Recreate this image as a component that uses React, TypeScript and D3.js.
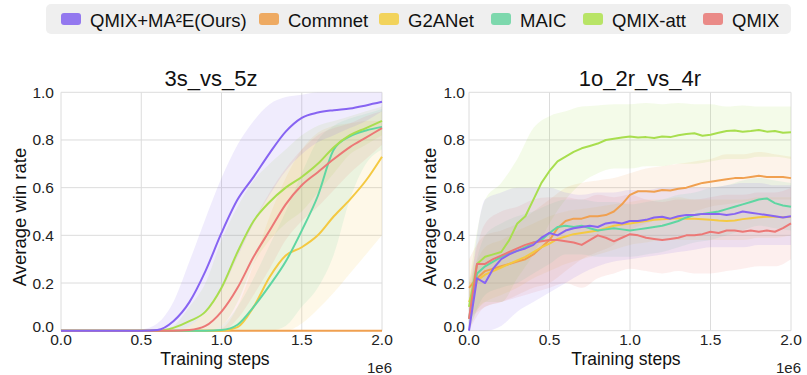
import React from "react";
import * as d3 from "d3";

// ---- legend / series definitions ----
const METHODS = ["QMIX+MA²E(Ours)", "Commnet", "G2ANet", "MAIC", "QMIX-att", "QMIX"];
const LINE_COLORS = ["#8764f2", "#f0a050", "#f4c942", "#5fd6a2", "#a8de4e", "#ec7876"];
const SWATCH_COLORS = ["#9378ef", "#eeaa62", "#f2d35b", "#7dd8ad", "#b8e466", "#ea8a87"];
const LEGEND_X = [61, 259, 379, 491, 583, 703];

const X_TICKS = [0, 0.5, 1.0, 1.5, 2.0];
const Y_TICKS = [0, 0.2, 0.4, 0.6, 0.8, 1.0];

// ---- 3s_vs_5z (steps in 1e6, every 0.1) ----
const STEPS_A = [0, 0.1, 0.2, 0.3, 0.4, 0.5, 0.6, 0.7, 0.8, 0.9, 1.0, 1.1, 1.2, 1.3, 1.4, 1.5, 1.6, 1.7, 1.8, 1.9, 2.0];
const A_MA2E = [0, 0, 0, 0, 0, 0, 0.003, 0.04, 0.12, 0.25, 0.41, 0.55, 0.645, 0.745, 0.835, 0.893, 0.915, 0.925, 0.932, 0.945, 0.96];
const A_MA2E_HI = [0, 0, 0, 0, 0, 0.005, 0.03, 0.12, 0.29, 0.47, 0.64, 0.78, 0.88, 0.95, 0.98, 0.99, 1, 1, 1, 1, 1];
const A_MA2E_LO = [0, 0, 0, 0, 0, 0, 0, 0, 0.02, 0.08, 0.17, 0.31, 0.45, 0.57, 0.67, 0.74, 0.79, 0.82, 0.85, 0.88, 0.92];
const A_COMM = [0, 0, 0, 0, 0, 0, 0, 0, 0, 0, 0, 0, 0, 0, 0, 0, 0, 0, 0, 0, 0];
const A_G2A = [0, 0, 0, 0, 0, 0, 0, 0, 0, 0, 0, 0.015, 0.1, 0.225, 0.315, 0.35, 0.4, 0.48, 0.55, 0.63, 0.73];
const A_G2A_HI = [0, 0, 0, 0, 0, 0, 0, 0, 0, 0, 0.01, 0.1, 0.28, 0.48, 0.64, 0.76, 0.83, 0.86, 0.87, 0.88, 0.88];
const A_G2A_LO = [0, 0, 0, 0, 0, 0, 0, 0, 0, 0, 0, 0, 0, 0, 0, 0.03, 0.09, 0.16, 0.24, 0.32, 0.4];
const A_MAIC = [0, 0, 0, 0, 0, 0, 0, 0, 0, 0, 0.003, 0.025, 0.1, 0.19, 0.29, 0.42, 0.565, 0.76, 0.815, 0.84, 0.855];
const A_MAIC_HI = [0, 0, 0, 0, 0, 0, 0, 0, 0, 0, 0.02, 0.1, 0.22, 0.36, 0.5, 0.66, 0.8, 0.86, 0.89, 0.91, 0.93];
const A_MAIC_LO = [0, 0, 0, 0, 0, 0, 0, 0, 0, 0, 0, 0, 0, 0, 0.02, 0.1, 0.18, 0.32, 0.55, 0.7, 0.76];
const A_ATT = [0, 0, 0, 0, 0, 0, 0, 0.012, 0.04, 0.08, 0.18, 0.33, 0.46, 0.54, 0.6, 0.645, 0.7, 0.77, 0.82, 0.85, 0.88];
const A_ATT_HI = [0, 0, 0, 0, 0, 0, 0, 0.02, 0.1, 0.2, 0.38, 0.52, 0.63, 0.7, 0.76, 0.82, 0.86, 0.88, 0.9, 0.92, 0.94];
const A_ATT_LO = [0, 0, 0, 0, 0, 0, 0, 0, 0, 0, 0.02, 0.12, 0.28, 0.38, 0.45, 0.5, 0.58, 0.66, 0.74, 0.78, 0.82];
const A_QMIX = [0, 0, 0, 0, 0, 0, 0, 0, 0.003, 0.02, 0.08, 0.18, 0.31, 0.42, 0.53, 0.61, 0.665, 0.72, 0.77, 0.81, 0.85];
const A_QMIX_HI = [0, 0, 0, 0, 0, 0, 0, 0, 0.02, 0.08, 0.18, 0.32, 0.46, 0.58, 0.68, 0.76, 0.82, 0.85, 0.87, 0.9, 0.92];
const A_QMIX_LO = [0, 0, 0, 0, 0, 0, 0, 0, 0, 0, 0, 0.05, 0.15, 0.26, 0.38, 0.46, 0.52, 0.59, 0.66, 0.72, 0.78];

// ---- 1o_2r_vs_4r: mean curves every 0.05, spread every 0.1 ----
const STEPS_B = d3.range(41).map((i) => i * 0.05);
const B_MA2E = [0, 0.22, 0.2, 0.26, 0.3, 0.32, 0.335, 0.345, 0.36, 0.39, 0.41, 0.4, 0.42, 0.43, 0.435, 0.44, 0.435, 0.45, 0.455, 0.45, 0.46, 0.46, 0.465, 0.475, 0.478, 0.47, 0.48, 0.485, 0.485, 0.49, 0.49, 0.49, 0.485, 0.49, 0.5, 0.495, 0.49, 0.485, 0.48, 0.475, 0.48];
const B_COMM = [0.18, 0.22, 0.25, 0.26, 0.27, 0.28, 0.29, 0.3, 0.32, 0.35, 0.38, 0.43, 0.46, 0.47, 0.47, 0.48, 0.48, 0.485, 0.5, 0.53, 0.57, 0.585, 0.585, 0.583, 0.59, 0.588, 0.595, 0.6, 0.61, 0.62, 0.625, 0.63, 0.635, 0.64, 0.64, 0.645, 0.65, 0.645, 0.645, 0.645, 0.64];
const B_G2A = [0.12, 0.21, 0.235, 0.25, 0.265, 0.28, 0.295, 0.31, 0.33, 0.35, 0.365, 0.385, 0.395, 0.405, 0.41, 0.415, 0.42, 0.43, 0.44, 0.445, 0.45, 0.455, 0.46, 0.465, 0.468, 0.47, 0.472, 0.47, 0.47, 0.468, 0.465, 0.462, 0.46, 0.462, 0.468, 0.472, 0.476, 0.478, 0.478, 0.476, 0.478];
const B_MAIC = [0.05, 0.24, 0.27, 0.29, 0.31, 0.325, 0.335, 0.35, 0.37, 0.38, 0.41, 0.435, 0.44, 0.435, 0.44, 0.43, 0.42, 0.425, 0.43, 0.425, 0.42, 0.425, 0.43, 0.435, 0.44, 0.45, 0.46, 0.475, 0.485, 0.49, 0.495, 0.5, 0.51, 0.52, 0.53, 0.54, 0.55, 0.555, 0.535, 0.525, 0.52];
const B_ATT = [0.1, 0.28, 0.31, 0.32, 0.33, 0.38, 0.45, 0.48, 0.55, 0.62, 0.67, 0.71, 0.73, 0.75, 0.765, 0.775, 0.785, 0.8, 0.805, 0.81, 0.815, 0.81, 0.812, 0.808, 0.815, 0.812, 0.82, 0.825, 0.828, 0.818, 0.822, 0.83, 0.838, 0.84, 0.835, 0.838, 0.842, 0.835, 0.838, 0.83, 0.832];
const B_QMIX = [0.05, 0.28, 0.28, 0.3, 0.315, 0.33, 0.345, 0.36, 0.37, 0.375, 0.38, 0.38, 0.375, 0.37, 0.36, 0.38, 0.4, 0.39, 0.375, 0.39, 0.405, 0.4, 0.39, 0.385, 0.38, 0.385, 0.39, 0.4, 0.4, 0.405, 0.415, 0.41, 0.42, 0.42, 0.415, 0.42, 0.415, 0.42, 0.415, 0.43, 0.45];

const B_MA2E_HI = [0.1, 0.55, 0.58, 0.6, 0.6, 0.6, 0.58, 0.57, 0.58, 0.58, 0.59, 0.59, 0.6, 0.6, 0.6, 0.6, 0.61, 0.62, 0.62, 0.61, 0.61];
const B_MA2E_LO = [0, 0, 0.02, 0.08, 0.12, 0.16, 0.2, 0.24, 0.27, 0.29, 0.3, 0.31, 0.32, 0.33, 0.34, 0.35, 0.35, 0.35, 0.36, 0.36, 0.36];
const B_COMM_HI = [0.3, 0.4, 0.42, 0.45, 0.5, 0.55, 0.6, 0.62, 0.63, 0.64, 0.66, 0.68, 0.69, 0.7, 0.71, 0.72, 0.74, 0.74, 0.75, 0.74, 0.73];
const B_COMM_LO = [0.05, 0.1, 0.12, 0.15, 0.18, 0.2, 0.25, 0.3, 0.33, 0.36, 0.42, 0.45, 0.47, 0.48, 0.5, 0.52, 0.53, 0.54, 0.55, 0.55, 0.55];
const B_G2A_HI = [0.2, 0.35, 0.38, 0.42, 0.45, 0.48, 0.5, 0.51, 0.52, 0.53, 0.54, 0.55, 0.55, 0.56, 0.55, 0.55, 0.55, 0.55, 0.56, 0.56, 0.56];
const B_G2A_LO = [0.05, 0.12, 0.15, 0.18, 0.22, 0.25, 0.28, 0.3, 0.32, 0.34, 0.36, 0.37, 0.38, 0.38, 0.38, 0.38, 0.38, 0.38, 0.39, 0.39, 0.4];
const B_MAIC_HI = [0.15, 0.4, 0.45, 0.48, 0.5, 0.53, 0.55, 0.55, 0.54, 0.54, 0.53, 0.54, 0.55, 0.57, 0.58, 0.6, 0.61, 0.63, 0.64, 0.63, 0.62];
const B_MAIC_LO = [0, 0.15, 0.18, 0.2, 0.24, 0.28, 0.32, 0.32, 0.31, 0.31, 0.31, 0.32, 0.33, 0.35, 0.37, 0.38, 0.4, 0.42, 0.44, 0.43, 0.42];
const B_ATT_HI = [0.2, 0.55, 0.62, 0.72, 0.85, 0.9, 0.92, 0.94, 0.945, 0.95, 0.95, 0.955, 0.95, 0.955, 0.95, 0.95, 0.94, 0.945, 0.94, 0.94, 0.94];
const B_ATT_LO = [0, 0.12, 0.12, 0.22, 0.32, 0.45, 0.55, 0.62, 0.66, 0.68, 0.68, 0.69, 0.69, 0.7, 0.7, 0.71, 0.72, 0.72, 0.73, 0.73, 0.72];
const B_QMIX_HI = [0.2, 0.45, 0.5, 0.52, 0.55, 0.56, 0.56, 0.55, 0.57, 0.56, 0.57, 0.55, 0.54, 0.55, 0.55, 0.56, 0.57, 0.57, 0.58, 0.58, 0.6];
const B_QMIX_LO = [0, 0.1, 0.12, 0.14, 0.16, 0.18, 0.2, 0.18, 0.22, 0.24, 0.26, 0.25, 0.24, 0.25, 0.24, 0.24, 0.25, 0.26, 0.27, 0.27, 0.3];

type Panel = {
  title: string;
  left: number;
  right: number;
  titleX: number;
  xLabelX: number;
  yLabelX: number;
  yTickX: number;
  lineSteps: number[];
  bandSteps: number[];
  means: number[][];
  highs: (number[] | null)[];
  lows: (number[] | null)[];
  curve: d3.CurveFactory;
};

const PANELS: Panel[] = [
  {
    title: "3s_vs_5z",
    left: 61,
    right: 382,
    titleX: 211,
    xLabelX: 215,
    yLabelX: 20,
    yTickX: 54,
    lineSteps: STEPS_A,
    bandSteps: STEPS_A,
    means: [A_MA2E, A_COMM, A_G2A, A_MAIC, A_ATT, A_QMIX],
    highs: [A_MA2E_HI, null, A_G2A_HI, A_MAIC_HI, A_ATT_HI, A_QMIX_HI],
    lows: [A_MA2E_LO, null, A_G2A_LO, A_MAIC_LO, A_ATT_LO, A_QMIX_LO],
    curve: d3.curveMonotoneX,
  },
  {
    title: "1o_2r_vs_4r",
    left: 469,
    right: 791,
    titleX: 640,
    xLabelX: 626,
    yLabelX: 430,
    yTickX: 465,
    lineSteps: STEPS_B,
    bandSteps: STEPS_A,
    means: [B_MA2E, B_COMM, B_G2A, B_MAIC, B_ATT, B_QMIX],
    highs: [B_MA2E_HI, B_COMM_HI, B_G2A_HI, B_MAIC_HI, B_ATT_HI, B_QMIX_HI],
    lows: [B_MA2E_LO, B_COMM_LO, B_G2A_LO, B_MAIC_LO, B_ATT_LO, B_QMIX_LO],
    curve: d3.curveLinear,
  },
];

const TOP = 92.3;
const BOTTOM = 330.7;
const DRAW_ORDER = [1, 2, 3, 4, 5, 0];
const FONT = "'Liberation Sans', Arial, Helvetica, sans-serif";
const GRID = "#dcdcdc";

function PanelView({ p }: { p: Panel }) {
  const x = d3.scaleLinear().domain([0, 2]).range([p.left, p.right]);
  const y = d3.scaleLinear().domain([0, 1]).range([BOTTOM, TOP]);
  const line = d3
    .line<[number, number]>()
    .x((d) => x(d[0]))
    .y((d) => y(d[1]))
    .curve(p.curve);
  const area = d3
    .area<[number, number, number]>()
    .x((d) => x(d[0]))
    .y0((d) => y(d[1]))
    .y1((d) => y(d[2]))
    .curve(d3.curveMonotoneX);
  const clipId = `clip-${p.left}`;

  return (
    <g>
      <defs>
        <clipPath id={clipId}>
          <rect x={p.left} y={TOP} width={p.right - p.left} height={BOTTOM - TOP} />
        </clipPath>
      </defs>
      <rect x={p.left} y={TOP} width={p.right - p.left} height={BOTTOM - TOP} fill="#ffffff" />
      {X_TICKS.map((t) => (
        <line key={`gx${t}`} x1={x(t)} x2={x(t)} y1={TOP} y2={BOTTOM} stroke={GRID} strokeWidth={1} />
      ))}
      {Y_TICKS.map((t) => (
        <line key={`gy${t}`} x1={p.left} x2={p.right} y1={y(t)} y2={y(t)} stroke={GRID} strokeWidth={1} />
      ))}
      <g clipPath={`url(#${clipId})`}>
        {DRAW_ORDER.map((i) => {
          const hi = p.highs[i];
          const lo = p.lows[i];
          if (!hi || !lo) return null;
          const pts = p.bandSteps.map((s, k) => [s, lo[k], hi[k]] as [number, number, number]);
          return <path key={`b${i}`} d={area(pts) || ""} fill={LINE_COLORS[i]} fillOpacity={0.12} stroke="none" />;
        })}
      </g>
      {DRAW_ORDER.map((i) => {
        const pts = p.lineSteps.map((s, k) => [s, p.means[i][k]] as [number, number]);
        return (
          <path
            key={`l${i}`}
            d={line(pts) || ""}
            fill="none"
            stroke={LINE_COLORS[i]}
            strokeWidth={2}
            strokeLinejoin="round"
          />
        );
      })}
      {Y_TICKS.map((t) => (
        <text
          key={`ty${t}`}
          x={p.yTickX}
          y={t === 0 ? y(t) + 1.5 : y(t) + 5.5}
          textAnchor="end"
          fontSize={15.5}
          fontFamily={FONT}
          fill="#222"
        >
          {t.toFixed(1)}
        </text>
      ))}
      {X_TICKS.map((t) => (
        <text key={`tx${t}`} x={x(t)} y={345} textAnchor="middle" fontSize={15.5} fontFamily={FONT} fill="#222">
          {t.toFixed(1)}
        </text>
      ))}
      <text x={p.titleX} y={86} textAnchor="middle" fontSize={22} fontFamily={FONT} fill="#111">
        {p.title}
      </text>
      <text x={p.xLabelX} y={365} textAnchor="middle" fontSize={17.5} fontFamily={FONT} fill="#111">
        Training steps
      </text>
      <text x={p.right + 10} y={373} textAnchor="end" fontSize={15} fontFamily={FONT} fill="#222">
        1e6
      </text>
      <text
        transform={`translate(${p.yLabelX},217) rotate(-90)`}
        textAnchor="middle"
        dy="0.35em"
        fontSize={18.5}
        fontFamily={FONT}
        fill="#111"
      >
        Average win rate
      </text>
    </g>
  );
}

export default function App() {
  return (
    <svg
      width={807}
      height={375}
      viewBox="0 0 807 375"
      style={{ position: "fixed", left: 0, top: 0, background: "#ffffff" }}
    >
      <rect x={0} y={0} width={807} height={375} fill="#ffffff" />
      <rect x={46} y={4} width={745} height={30} rx={5} fill="#efefef" />
      {METHODS.map((m, i) => (
        <g key={m}>
          <rect x={LEGEND_X[i]} y={13} width={20} height={12} rx={3} fill={SWATCH_COLORS[i]} />
          <text x={LEGEND_X[i] + 29} y={26.5} fontSize={18.5} fontFamily={FONT} fill="#111">
            {m}
          </text>
        </g>
      ))}
      {PANELS.map((p) => (
        <PanelView key={p.title} p={p} />
      ))}
    </svg>
  );
}
